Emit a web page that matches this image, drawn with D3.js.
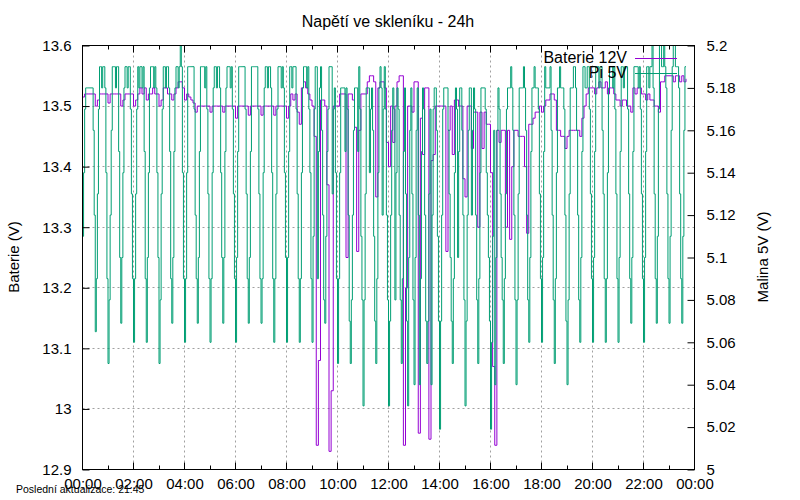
<!DOCTYPE html>
<html>
<head>
<meta charset="utf-8">
<title>Napětí ve skleníku - 24h</title>
<script src="https://cdn.jsdelivr.net/npm/d3@7"></script>
<style>
    body { margin: 0; background: #fff; }
    text { font-family: "Liberation Sans", Arial, sans-serif; fill: #000; }
</style>
</head>
<body>
<svg id="chart" width="800" height="500"></svg>
<script>
    // sampling of the two logs (minutes from 00:00)
    const batStep = 5;
    const piStep = 2.5;

    const xTickLabels = ["00:00", "02:00", "04:00", "06:00", "08:00", "10:00", "12:00",
        "14:00", "16:00", "18:00", "20:00", "22:00", "00:00"];
    const leftTicks = [12.9, 13.0, 13.1, 13.2, 13.3, 13.4, 13.5, 13.6];
    const leftTickLabels = ["12.9", "13", "13.1", "13.2", "13.3", "13.4", "13.5", "13.6"];
    const rightTicks = [5.00, 5.02, 5.04, 5.06, 5.08, 5.10, 5.12, 5.14, 5.16, 5.18, 5.20];
    const rightTickLabels = ["5", "5.02", "5.04", "5.06", "5.08", "5.1", "5.12", "5.14", "5.16", "5.18", "5.2"];

    // Baterie 12V, every 5 min, one row per hour
    const baterie12V = [
        13.515, 13.52, 13.52, 13.52, 13.52, 13.52, 13.50, 13.51, 13.52, 13.52, 13.52, 13.52,
        13.505, 13.52, 13.52, 13.52, 13.52, 13.52, 13.50, 13.51, 13.52, 13.52, 13.52, 13.52,
        13.50, 13.51, 13.52, 13.53, 13.52, 13.53, 13.51, 13.52, 13.52, 13.53, 13.52, 13.52,
        13.50, 13.51, 13.53, 13.53, 13.52, 13.52, 13.51, 13.52, 13.53, 13.54, 13.54, 13.53,
        13.51, 13.52, 13.515, 13.51, 13.505, 13.49, 13.50, 13.50, 13.50, 13.50, 13.50, 13.50,
        13.49, 13.50, 13.50, 13.50, 13.50, 13.50, 13.49, 13.50, 13.50, 13.50, 13.50, 13.50,
        13.48, 13.50, 13.50, 13.50, 13.50, 13.50, 13.485, 13.50, 13.50, 13.50, 13.50, 13.50,
        13.485, 13.50, 13.50, 13.50, 13.50, 13.50, 13.485, 13.50, 13.50, 13.50, 13.50, 13.50,
        13.48, 13.50, 13.52, 13.51, 13.52, 13.49, 13.47, 13.53, 13.54, 13.53, 13.52, 13.51,
        13.50, 13.45, 12.94, 13.08, 13.51, 13.51, 13.50, 13.37, 12.93, 13.03, 13.50, 13.50,
        13.50, 13.52, 13.52, 13.52, 13.25, 13.52, 13.52, 13.51, 13.465, 13.26, 13.46, 13.52,
        13.52, 13.52, 13.54, 13.55, 13.55, 13.54, 13.35, 13.53, 13.54, 13.54, 13.53, 13.44,
        13.40, 13.50, 13.44, 13.50, 13.54, 13.55, 13.55, 12.94, 13.20, 13.50, 13.50, 13.49,
        13.54, 13.54, 12.96, 13.48, 13.42, 13.53, 13.53, 12.95, 13.41, 13.42, 13.50, 13.50,
        13.50, 13.50, 13.50, 13.26, 13.46, 13.50, 13.42, 13.51, 13.51, 13.50, 13.50, 13.38,
        13.35, 13.50, 13.50, 13.43, 13.49, 13.49, 13.30, 13.49, 13.43, 13.49, 13.47, 13.47,
        13.39, 13.07, 12.94, 13.46, 13.44, 13.46, 13.46, 13.30, 13.46, 13.28, 13.40, 13.46,
        13.46, 13.45, 13.45, 13.45, 13.40, 13.29, 13.47, 13.47, 13.48, 13.49, 13.49, 13.50,
        13.49, 13.50, 13.51, 13.51, 13.52, 13.52, 13.51, 13.46, 13.46, 13.45, 13.45, 13.43,
        13.45, 13.46, 13.46, 13.46, 13.46, 13.46, 13.45, 13.48, 13.50, 13.52, 13.53, 13.53,
        13.53, 13.52, 13.53, 13.54, 13.53, 13.53, 13.54, 13.52, 13.53, 13.53, 13.52, 13.51,
        13.51, 13.50, 13.51, 13.51, 13.50, 13.50, 13.49, 13.53, 13.52, 13.53, 13.53, 13.52,
        13.52, 13.51, 13.52, 13.51, 13.51, 13.50, 13.50, 13.49, 13.54, 13.54, 13.55, 13.55,
        13.55, 13.55, 13.54, 13.55, 13.55, 13.54, 13.55, 13.54, 13.545
    ];

    // Pi 5V, every 2.5 min, one row per half hour
    const pi5V = [
        5.11, 5.14, 5.17, 5.18, 5.18, 5.18, 5.18, 5.18, 5.18, 5.18, 5.16, 5.12,
        5.065, 5.09, 5.13, 5.17, 5.19, 5.19, 5.18, 5.19, 5.19, 5.18, 5.14, 5.09,
        5.05, 5.08, 5.12, 5.16, 5.19, 5.19, 5.19, 5.18, 5.19, 5.19, 5.15, 5.10,
        5.069, 5.10, 5.14, 5.18, 5.19, 5.19, 5.18, 5.19, 5.19, 5.17, 5.13, 5.09,
        5.06, 5.09, 5.13, 5.17, 5.19, 5.18, 5.19, 5.19, 5.18, 5.19, 5.15, 5.09,
        5.06, 5.10, 5.14, 5.18, 5.19, 5.19, 5.19, 5.18, 5.19, 5.18, 5.14, 5.10,
        5.05, 5.08, 5.13, 5.17, 5.19, 5.19, 5.18, 5.19, 5.19, 5.18, 5.15, 5.09,
        5.069, 5.10, 5.15, 5.18, 5.19, 5.19, 5.18, 5.19, 5.20, 5.19, 5.14, 5.09,
        5.06, 5.09, 5.14, 5.19, 5.19, 5.19, 5.19, 5.19, 5.19, 5.17, 5.12, 5.09,
        5.069, 5.10, 5.15, 5.19, 5.19, 5.19, 5.19, 5.18, 5.19, 5.17, 5.13, 5.09,
        5.06, 5.09, 5.14, 5.18, 5.19, 5.19, 5.18, 5.19, 5.19, 5.18, 5.14, 5.10,
        5.069, 5.10, 5.15, 5.18, 5.19, 5.19, 5.19, 5.18, 5.19, 5.17, 5.13, 5.09,
        5.06, 5.10, 5.15, 5.19, 5.19, 5.19, 5.19, 5.19, 5.19, 5.17, 5.13, 5.09,
        5.069, 5.10, 5.15, 5.19, 5.19, 5.19, 5.19, 5.19, 5.19, 5.17, 5.13, 5.09,
        5.069, 5.09, 5.14, 5.18, 5.19, 5.19, 5.18, 5.19, 5.19, 5.18, 5.14, 5.09,
        5.06, 5.09, 5.13, 5.17, 5.19, 5.19, 5.19, 5.18, 5.19, 5.18, 5.14, 5.10,
        5.06, 5.10, 5.15, 5.19, 5.19, 5.18, 5.19, 5.19, 5.19, 5.17, 5.13, 5.09,
        5.06, 5.09, 5.14, 5.18, 5.19, 5.19, 5.19, 5.18, 5.19, 5.17, 5.14, 5.09,
        5.06, 5.11, 5.17, 5.19, 5.19, 5.09, 5.15, 5.18, 5.19, 5.16, 5.12, 5.08,
        5.069, 5.11, 5.15, 5.17, 5.19, 5.19, 5.19, 5.13, 5.17, 5.18, 5.14, 5.09,
        5.05, 5.09, 5.14, 5.18, 5.18, 5.18, 5.18, 5.15, 5.18, 5.17, 5.12, 5.07,
        5.05, 5.08, 5.12, 5.16, 5.18, 5.18, 5.18, 5.15, 5.19, 5.17, 5.11, 5.08,
        5.03, 5.08, 5.13, 5.18, 5.18, 5.18, 5.14, 5.17, 5.18, 5.16, 5.11, 5.07,
        5.05, 5.09, 5.14, 5.18, 5.19, 5.18, 5.12, 5.17, 5.19, 5.17, 5.12, 5.08,
        5.03, 5.07, 5.12, 5.16, 5.18, 5.17, 5.08, 5.14, 5.18, 5.17, 5.12, 5.08,
        5.05, 5.09, 5.15, 5.18, 5.13, 5.07, 5.03, 5.10, 5.16, 5.18, 5.13, 5.08,
        5.04, 5.10, 5.16, 5.18, 5.12, 5.04, 5.09, 5.15, 5.18, 5.17, 5.12, 5.07,
        5.05, 5.07, 5.13, 5.17, 5.04, 5.12, 5.17, 5.18, 5.18, 5.16, 5.11, 5.07,
        5.019, 5.07, 5.12, 5.17, 5.18, 5.18, 5.18, 5.18, 5.16, 5.13, 5.10, 5.07,
        5.05, 5.09, 5.14, 5.18, 5.17, 5.10, 5.15, 5.18, 5.18, 5.16, 5.12, 5.08,
        5.03, 5.07, 5.12, 5.16, 5.18, 5.18, 5.12, 5.16, 5.18, 5.17, 5.12, 5.08,
        5.05, 5.09, 5.14, 5.18, 5.18, 5.18, 5.18, 5.17, 5.14, 5.12, 5.10, 5.07,
        5.019, 5.06, 5.11, 5.16, 5.04, 5.10, 5.16, 5.18, 5.17, 5.13, 5.10, 5.08,
        5.05, 5.09, 5.13, 5.17, 5.18, 5.18, 5.18, 5.19, 5.18, 5.16, 5.12, 5.08,
        5.04, 5.08, 5.13, 5.18, 5.18, 5.18, 5.18, 5.19, 5.18, 5.16, 5.12, 5.08,
        5.06, 5.10, 5.15, 5.18, 5.18, 5.19, 5.18, 5.18, 5.18, 5.17, 5.13, 5.09,
        5.06, 5.10, 5.15, 5.19, 5.18, 5.18, 5.18, 5.18, 5.19, 5.16, 5.12, 5.08,
        5.05, 5.09, 5.14, 5.18, 5.18, 5.19, 5.18, 5.18, 5.18, 5.17, 5.12, 5.07,
        5.04, 5.08, 5.13, 5.18, 5.18, 5.18, 5.19, 5.19, 5.18, 5.16, 5.12, 5.08,
        5.06, 5.10, 5.15, 5.19, 5.19, 5.18, 5.18, 5.19, 5.19, 5.17, 5.13, 5.09,
        5.06, 5.10, 5.15, 5.19, 5.19, 5.19, 5.18, 5.19, 5.19, 5.16, 5.13, 5.09,
        5.06, 5.09, 5.14, 5.18, 5.19, 5.19, 5.19, 5.18, 5.19, 5.17, 5.13, 5.09,
        5.06, 5.10, 5.15, 5.19, 5.19, 5.18, 5.19, 5.19, 5.19, 5.17, 5.13, 5.09,
        5.069, 5.10, 5.15, 5.19, 5.19, 5.19, 5.19, 5.18, 5.19, 5.17, 5.13, 5.09,
        5.06, 5.10, 5.15, 5.19, 5.19, 5.18, 5.19, 5.19, 5.20, 5.18, 5.13, 5.09,
        5.069, 5.11, 5.17, 5.20, 5.20, 5.19, 5.19, 5.20, 5.19, 5.18, 5.13, 5.09,
        5.069, 5.11, 5.16, 5.19, 5.20, 5.20, 5.19, 5.19, 5.19, 5.18, 5.13, 5.09,
        5.069, 5.11, 5.16, 5.19, 5.19
    ];

    const margin = { top: 45, right: 106, bottom: 31, left: 82 };
    const width = 800 - margin.left - margin.right;
    const height = 500 - margin.top - margin.bottom;

    const svg = d3.select("#chart");
    svg.append("rect").attr("width", 800).attr("height", 500).attr("fill", "#fff");

    const g = svg.append("g")
        .attr("transform", `translate(${margin.left + 0.5},${margin.top + 0.5})`);

    const day0 = new Date(Date.UTC(2024, 0, 1));
    const x = d3.scaleUtc()
        .domain([day0, d3.utcDay.offset(day0, 1)])
        .range([0, width]);
    const yL = d3.scaleLinear().domain([12.9, 13.6]).range([height, 0]);
    const yR = d3.scaleLinear().domain([5.0, 5.2]).range([height, 0]);

    const batData = baterie12V.map((v, i) => ({ t: new Date(+day0 + i * batStep * 60000), v }));
    const piData = pi5V.map((v, i) => ({ t: new Date(+day0 + i * piStep * 60000), v }));

    const majorTicks = x.ticks(d3.utcHour.every(2));
    const minorTicks = x.ticks(d3.utcHour.every(1)).filter(d => d.getUTCHours() % 2 === 1);

    // grid
    const grid = g.append("g")
        .attr("stroke", "#a0a0a0")
        .attr("stroke-width", 1)
        .attr("stroke-dasharray", "2,3");
    grid.selectAll(".gx")
        .data(majorTicks.slice(1, -1))
        .join("line")
        .attr("x1", d => Math.round(x(d))).attr("x2", d => Math.round(x(d)))
        .attr("y1", 0).attr("y2", height);
    grid.selectAll(".gy")
        .data(leftTicks.slice(1, -1))
        .join("line")
        .attr("x1", 0).attr("x2", width)
        .attr("y1", d => Math.round(yL(d))).attr("y2", d => Math.round(yL(d)));

    // series
    g.append("clipPath").attr("id", "clip")
        .append("rect").attr("x", 0).attr("y", -1).attr("width", width).attr("height", height + 1);

    const batLine = d3.line().x(d => x(d.t)).y(d => yL(d.v)).curve(d3.curveStepAfter);
    const piLine = d3.line().x(d => x(d.t)).y(d => yR(d.v)).curve(d3.curveStepAfter);

    const series = g.append("g").attr("clip-path", "url(#clip)");
    series.append("path")
        .datum(batData)
        .attr("fill", "none")
        .attr("stroke", "#9400d3")
        .attr("stroke-width", 1)
        .attr("d", batLine);
    series.append("path")
        .datum(piData)
        .attr("fill", "none")
        .attr("stroke", "#009e73")
        .attr("stroke-width", 1)
        .attr("d", piLine);

    // axes
    const xAxis = d3.axisBottom(x)
        .tickValues(majorTicks)
        .tickFormat((d, i) => xTickLabels[i])
        .tickSize(0)
        .tickPadding(9);
    const gx = g.append("g")
        .attr("transform", `translate(0,${height})`)
        .call(xAxis);
    gx.select(".domain").remove();
    gx.selectAll("text").attr("font-size", 15).attr("font-family", "Liberation Sans, Arial, sans-serif");

    const tickG = g.append("g").attr("stroke", "#000").attr("stroke-width", 1);
    [[majorTicks, 7], [minorTicks, 4]].forEach(([ticks, len]) => {
        tickG.selectAll(null).data(ticks).join("line")
            .attr("x1", d => Math.round(x(d))).attr("x2", d => Math.round(x(d)))
            .attr("y1", height).attr("y2", height - len);
        tickG.selectAll(null).data(ticks).join("line")
            .attr("x1", d => Math.round(x(d))).attr("x2", d => Math.round(x(d)))
            .attr("y1", 0).attr("y2", len);
    });

    const yAxisL = d3.axisLeft(yL)
        .tickValues(leftTicks)
        .tickFormat((d, i) => leftTickLabels[i])
        .tickSizeInner(-7).tickSizeOuter(0)
        .tickPadding(11);
    const gyL = g.append("g").call(yAxisL);
    gyL.select(".domain").remove();
    gyL.selectAll("text").attr("font-size", 15).attr("font-family", "Liberation Sans, Arial, sans-serif");

    const yAxisR = d3.axisRight(yR)
        .tickValues(rightTicks)
        .tickFormat((d, i) => rightTickLabels[i])
        .tickSizeInner(-7).tickSizeOuter(0)
        .tickPadding(12);
    const gyR = g.append("g").attr("transform", `translate(${width},0)`).call(yAxisR);
    gyR.select(".domain").remove();
    gyR.selectAll("text").attr("font-size", 15).attr("font-family", "Liberation Sans, Arial, sans-serif");

    // frame
    g.append("rect")
        .attr("width", width).attr("height", height)
        .attr("fill", "none").attr("stroke", "#000").attr("stroke-width", 1);

    // titles
    svg.append("text")
        .attr("x", 388).attr("y", 27)
        .attr("text-anchor", "middle")
        .attr("font-size", 16)
        .text("Napětí ve skleníku - 24h");
    svg.append("text")
        .attr("transform", "translate(19,257) rotate(-90)")
        .attr("text-anchor", "middle")
        .attr("font-size", 15)
        .text("Baterie (V)");
    svg.append("text")
        .attr("transform", "translate(768,257) rotate(-90)")
        .attr("text-anchor", "middle")
        .attr("font-size", 15)
        .text("Malina 5V (V)");
    svg.append("text")
        .attr("x", 16).attr("y", 493)
        .attr("font-size", 10.5)
        .attr("fill", "#222")
        .text("Poslední aktualizace: 21:45");

    // legend
    const legendItems = [
        { name: "Baterie 12V", color: "#9400d3" },
        { name: "Pi 5V", color: "#009e73" }
    ];
    const legend = svg.append("g").attr("transform", "translate(627,58)");
    legendItems.forEach((d, i) => {
        legend.append("text")
            .attr("x", 0).attr("y", i * 15 + 5)
            .attr("text-anchor", "end")
            .attr("font-size", 16)
            .text(d.name);
        legend.append("line")
            .attr("x1", 8).attr("x2", 50)
            .attr("y1", i * 15 + 0.5).attr("y2", i * 15 + 0.5)
            .attr("stroke", d.color).attr("stroke-width", 1);
    });
</script>
</body>
</html>
